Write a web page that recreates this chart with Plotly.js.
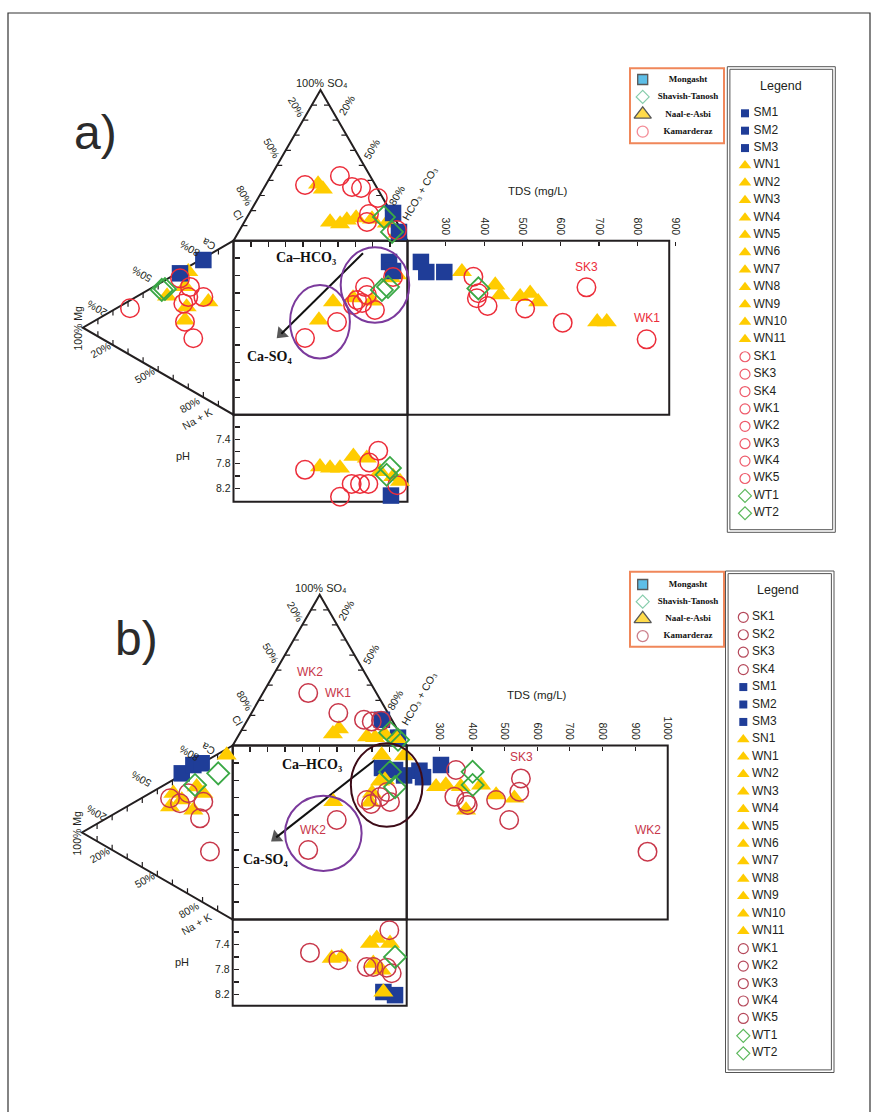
<!DOCTYPE html>
<html>
<head>
<meta charset="utf-8">
<script src="https://cdn.plot.ly/plotly-3.0.1.min.js"></script>
<style>html,body{margin:0;padding:0;background:#fff;}#chart{width:880px;height:1112px;}</style>
</head>
<body>
<div id="chart"></div>
<script>
// ===================== DATA =====================
// Groups: M = Mongasht (SM), N = Naal-e-Asbi (WN/SN), K = Kamarderaz (SK/WK), T = Shavish-Tanosh (WT)

// ---- (a) anion triangle: SO4 %, HCO3+CO3 % (Cl = remainder)
const aAnionGroup = ['N','N','N','N','N','N','N','N','N','M','M','K','K','K','K','K','K','K','K','T','T'];
const aAnionSO4   = [37.6,34.3,12.4,11.1,13.7,15.1,14.4,11.7,5.1, 18.4,5.8, 37.0,42.9,35.6,35.0,28.3,17.7,12.4,7.1, 15.7,5.8];
const aAnionHCO3  = [29.8,34.2,49.3,55.7,58.3,62.9,72.4,82.3,91.9, 82.5,92.2, 22.6,39.7,50.3,55.8,68.8,69.0,70.5,90.4, 78.6,88.2];
// ---- (a) cation triangle: Mg %, Ca % (Na+K = remainder)
const aCationGroup = ['N','N','N','N','N','N','M','M','K','K','K','K','K','K','K','K','T','T'];
const aCationMg    = [30.0,32.2,44.1,31.1,16.7,32.2, 20.0,35.5, 35.5,28.9,30.0,20.0,33.3,32.2,26.7,68.7, 47.6,45.5];
const aCationCa    = [67.2,57.5,46.1,46.4,56.5,38.3, 78.9,63.5, 60.6,59.0,52.6,57.6,47.3,37.3,30.6,26.8, 47.9,49.5];
// ---- (a) central square: anion axis %, cation axis %
const aSquareGroup = ['N','N','N','N','N','N','M','M','K','K','K','K','K','K','K','K','K','T','T'];
const aSquareX     = [57.2,49.1,68.7,79.6,90.5,94.0, 89.4,91.7, 91.7,75.6,76.7,71.0,73.9,81.3,68.7,59.5,41.1, 85.3,88.8];
const aSquareY     = [64.8,54.4,67.1,65.3,78.6,80.3, 87.8,82.6, 79.1,73.4,68.8,65.9,64.2,60.2,63.0,53.3,44.1, 71.7,73.4];
// ---- (a) TDS panel: TDS mg/L, cation axis %
const aTdsGroup = ['N','N','N','N','N','N','N','N','M','M','M','K','K','K','K','K','K','K','K','T'];
const aTds      = [342,429,442,494,520,541,695,720, 235,249,296, 372,381,385,409,507,605,667,824, 385];
const aTdsY     = [82.2,74.5,68.8,67.8,69.8,64.9,53.4,53.4, 87.8,82.0,82.0, 79.3,66.9,69.8,62.5,61.1,52.9,73.2,43.3, 72.6];
// ---- (a) pH panel: anion axis %, pH
const aPhGroup = ['N','N','N','N','N','N','N','N','M','K','K','K','K','K','K','K','K','T','T'];
const aPhX     = [49.7,55.5,61.2,68.9,76.6,84.2,91.8,95.7, 90.5, 41.1,61.2,67.9,72.7,77.5,78.0,83.2,94.1, 89.9,88.0];
const aPh      = [7.85,7.87,7.87,7.68,7.71,7.93,8.01,8.09, 8.32, 7.90,8.34,8.13,8.13,8.13,7.78,7.59,8.15, 7.87,7.98];

// ---- (b) anion triangle
const bAnionGroup = ['M','M','N','N','N','N','N','N','K','K','K','K','K','T','T'];
const bAnionSO4   = [17.1,5.2, 7.8,11.1,5.8,5.2,7.2,4.5, 34.8,21.6,17.1,16.0,16.5, 8.5,3.8];
const bAnionHCO3  = [77.2,92.4, 53.7,55.5,74.3,79.2,83.9,92.1, 26.0,49.9,66.9,71.9,77.0, 86.2,93.1];
// ---- (b) cation triangle
const bCationGroup = ['M','M','M','N','N','N','N','N','N','N','K','K','K','K','K','K','T','T'];
const bCationMg    = [33.8,26.1,20.6, 4.0,39.4,33.8,23.9,19.5,26.1,41.6, 41.6,35.0,29.5,19.5,21.7,15.1, 9.6,25.0];
const bCationCa    = [67.1,75.7,79.5, 92.5,52.8,51.8,64.3,62.7,49.8,44.0, 48.9,49.3,57.8,57.9,47.3,31.5, 79.2,64.8];
// ---- (b) central square
const bSquareGroup = ['M','M','M','N','N','N','N','N','N','N','K','K','K','K','K','K','K','T','T'];
const bSquareX     = [85.8,93.3,98.5, 57.8,85.6,98.4,84.7,87.5,80.1,78.9, 59.8,43.4,77.0,79.5,84.6,88.7,90.4, 90.4,93.3];
const bSquareY     = [87.1,85.9,82.8, 67.7,94.5,94.0,79.6,80.2,72.7,67.5, 57.2,39.9,68.7,66.4,70.4,73.3,67.5, 84.8,76.1];
// ---- (b) TDS panel
const bTdsGroup = ['M','M','M','N','N','N','N','N','N','N','K','K','K','K','K','K','K','K','K','T','T'];
const bTds      = [239,250,305, 290,320,366,382,428,474,530, 351,346,382,387,474,550,545,514,938, 402,402];
const bTdsY     = [85.5,81.8,88.8, 76.3,77.3,76.3,62.9,77.3,71.6,69.7, 85.9,70.6,67.7,65.8,68.7,81.1,73.4,57.2,39.0, 84.9,77.3];
// ---- (b) pH panel
const bPhGroup = ['M','M','N','N','N','N','N','N','N','N','K','K','K','K','K','K','K','T'];
const bPhX     = [86.6,93.3, 56.9,62.6,78.9,82.8,90.4,80.8,85.6,86.6, 44.4,60.7,77.0,80.8,88.5,90.0,91.4, 93.3];
const bPh      = [8.16,8.21, 7.62,7.60,7.38,7.30,7.38,7.70,7.81,8.16, 7.53,7.65,7.76,7.76,7.77,7.17,7.86, 7.60];

// ---- axis ticks / labels
const squareTicks = [10,20,30,40,50,60,70,80,90];
const aTdsTicks = [300,400,500,600,700,800,900];
const bTdsTicks = [300,400,500,600,700,800,900,1000];
const phTickVals = [7.4,7.8,8.2];
const phMinorVals = [7.2,7.6,8.0];

// ---- legends
const siteLabels = ['Mongasht','Shavish-Tanosh','Naal-e-Asbi','Kamarderaz'];
const aSampleLabels = ['SM1','SM2','SM3','WN1','WN2','WN3','WN4','WN5','WN6','WN7','WN8','WN9','WN10','WN11',
  'SK1','SK3','SK4','WK1','WK2','WK3','WK4','WK5','WT1','WT2'];
const bSampleLabels = ['SK1','SK2','SK3','SK4','SM1','SM2','SM3','SN1','WN1','WN2','WN3','WN4','WN5','WN6','WN7',
  'WN8','WN9','WN10','WN11','WK1','WK2','WK3','WK4','WK5','WT1','WT2'];

// ---- sample name labels on the plot
const aPointLabelText = ['SK3','WK1'];
const aPointLabelTds  = [667.6, 824.2];
const aPointLabelY    = [85.1, 55.4];
const bPointLabelText = ['SK3','WK2'];
const bPointLabelTds  = [550.3, 938.3];
const bPointLabelY    = [93.2, 51.4];
const bDiagLabelText  = ['WK2','WK1','WK2'];
const bDiagLabelX     = [44.4, 60.7, 46.3];
const bDiagLabelY     = [142.4, 130.0, 51.4];

// ===================== STYLE / BUILD =====================
const W = 880, H = 1112;
const SQ3 = Math.sqrt(3) / 2;
const SANS = 'Arial, "Liberation Sans", "DejaVu Sans", sans-serif';
const SERIF = '"Times New Roman", "Liberation Serif", "DejaVu Serif", serif';
const INK = '#231f20';
const BLUE = '#1f3d98', YELLOW = '#ffcc00', GREEN = '#3aa845';

const traces = [];
const shapes = [];
const annotations = [];
const layout = {
  width: W, height: H, margin: {l:0, r:0, t:0, b:0},
  paper_bgcolor: '#ffffff', plot_bgcolor: 'rgba(0,0,0,0)',
  showlegend: false, hovermode: false,
  font: {family: SANS, color: INK}
};
const axName = id => id[0] + 'axis' + id.slice(1);

function markerFor(g, red) {
  if (g === 'M') return {symbol:'square', size:16.5, color:BLUE, line:{width:0}};
  if (g === 'N') return {symbol:'triangle-up', size:17.5, color:YELLOW, line:{width:0}};
  if (g === 'K') return {symbol:'circle-open', size:18.5, color:red, line:{width:1.5, color:red}};
  return {symbol:'diamond-open', size:17, color:GREEN, line:{width:1.8, color:GREEN}};
}
const anionToXY = (so4, hco3) => [hco3 + so4 / 2, 100 + so4 * SQ3];
const cationToXY = (mg, ca) => [-mg * SQ3, ca + mg / 2];

function addPoints(groups, xs, ys, order, xa, ya, red, tf) {
  order.forEach(g => {
    const X = [], Y = [];
    groups.forEach((gg, i) => {
      if (gg !== g) return;
      const p = tf ? tf(xs[i], ys[i]) : [xs[i], ys[i]];
      X.push(p[0]); Y.push(p[1]);
    });
    if (!X.length) return;
    traces.push({type:'scatter', mode:'markers', x:X, y:Y, xaxis:xa, yaxis:ya,
      marker:markerFor(g, red), cliponaxis:false, showlegend:false, hoverinfo:'skip'});
  });
}

function ann(text, x, y, xref, yref, o) {
  return Object.assign({text, x, y, xref, yref, showarrow:false, xanchor:'center', yanchor:'middle',
    font:{family:SANS, size:10.5, color:INK}}, o || {});
}

// labels around triangles (diagram units: square = 0..100)
const TRI_LABELS = [
  ['100% SO₄', 50.7, 190.5, 0, 11],
  ['20%', 36.3, 177.0, 60], ['50%', 21.9, 153.1, 60], ['80%', 6.6, 125.9, 60], ['Cl', 2.8, 114.8, 60],
  ['20%', 65.1, 178.0, -60], ['50%', 79.4, 152.7, -60], ['80%', 93.4, 125.9, -60],
  ['HCO₃ + CO₃', 107.2, 127.2, -60],
  ['Ca', -14.5, 98.1, -150], ['80%', -25.0, 95.2, -150], ['50%', -52.8, 80.7, -150], ['20%', -78.3, 61.1, -150],
  ['100% Mg', -89.2, 49.7, -90],
  ['20%', -76.7, 37.2, -30], ['50%', -50.9, 22.8, -30], ['80%', -25.4, 5.6, -30], ['Na + K', -21.1, -2.5, -30]
];

function buildDiagram(D) {
  const s = D.s, sqB = D.sqT + 100 * s, sqR = D.sqL + 100 * s;
  const base = {showgrid:false, zeroline:false, showline:false, fixedrange:true};
  const xL = 55, xR = 432, yT = D.sqT - 178, yB = D.phB + 12;
  const tickStyle = {ticks:'inside', ticklen:5, tickwidth:1.3, tickcolor:INK};
  layout[axName(D.ids.x)] = Object.assign({}, base, tickStyle, {
    domain:[xL / W, xR / W], range:[(xL - D.sqL) / s, (xR - D.sqL) / s],
    anchor:'free', position:1 - D.sqT / H, side:'top',
    tickmode:'array', tickvals:squareTicks, showticklabels:false
  });
  layout[axName(D.ids.y)] = Object.assign({}, base, tickStyle, {
    domain:[1 - yB / H, 1 - yT / H], range:[(sqB - yB) / s, (sqB - yT) / s],
    anchor:'free', position:D.sqL / W, side:'left',
    tickmode:'array', tickvals:squareTicks, showticklabels:false
  });
  const tdsEnd = sqR + (D.tdsMax - 200) * D.tdsScale;
  layout[axName(D.ids.xt)] = Object.assign({}, base, {
    domain:[(sqR - 4) / W, (tdsEnd + 6) / W], range:[200 - 4 / D.tdsScale, D.tdsMax + 6 / D.tdsScale],
    anchor:'free', position:1 - D.sqT / H, side:'top',
    tickmode:'array', tickvals:D.tdsTicks, ticks:'inside', ticklen:4, tickwidth:1.2, tickcolor:INK,
    tickangle:90, tickfont:{family:SANS, size:10.5, color:INK}, ticklabelstandoff:4
  });
  const phScale = (D.phB - sqB) / (D.phMax - 7);
  layout[axName(D.ids.yp)] = Object.assign({}, base, {
    domain:[1 - (D.phB + 4) / H, 1 - (sqB - 4) / H], range:[D.phMax + 4 / phScale, 7 - 4 / phScale],
    anchor:'free', position:D.sqL / W, side:'left',
    tickmode:'array', tickvals:phTickVals, tickformat:'.1f',
    ticks:'inside', ticklen:5, tickwidth:1.2, tickcolor:INK,
    minor:{tickmode:'array', tickvals:phMinorVals, ticks:'inside', ticklen:5, tickwidth:1.2, tickcolor:INK, showgrid:false},
    tickfont:{family:SANS, size:10.5, color:INK}, ticklabelstandoff:3
  });

  const xr = D.ids.x, yr = D.ids.y;
  const frame = {color:INK, width:2};
  shapes.push({type:'path', xref:xr, yref:yr, layer:'below', line:frame,
    path:'M0,100 L50,' + (100 + 100 * SQ3) + ' L100,100 Z'});
  shapes.push({type:'path', xref:xr, yref:yr, layer:'below', line:frame,
    path:'M0,100 L' + (-100 * SQ3) + ',50 L0,0 Z'});
  shapes.push({type:'rect', xref:xr, yref:yr, layer:'below', line:frame, x0:0, x1:100, y0:0, y1:100});
  shapes.push({type:'rect', xref:D.ids.xt, yref:yr, layer:'below', line:frame, x0:200, x1:D.tdsBox, y0:0, y1:100});
  shapes.push({type:'rect', xref:xr, yref:D.ids.yp, layer:'below', line:frame, x0:0, x1:100, y0:7, y1:D.phMax});
  // small tick marks on the triangle sides
  const tl = {color:INK, width:1.2};
  for (let f = 1; f <= 9; f++) {
    const t = f / 10;
    let x = 50 * t, y = 100 + 100 * SQ3 * t;
    shapes.push({type:'line', xref:xr, yref:yr, layer:'below', line:tl, x0:x, y0:y, x1:x + 3, y1:y});
    x = 100 - 50 * t;
    shapes.push({type:'line', xref:xr, yref:yr, layer:'below', line:tl, x0:x, y0:y, x1:x - 3, y1:y});
    x = -100 * SQ3 * t; y = 100 - 50 * t;
    shapes.push({type:'line', xref:xr, yref:yr, layer:'below', line:tl, x0:x, y0:y, x1:x, y1:y - 3});
    y = 50 * t;
    shapes.push({type:'line', xref:xr, yref:yr, layer:'below', line:tl, x0:x, y0:y, x1:x, y1:y + 3});
  }
  // ellipses
  D.ellipses.forEach(e => shapes.push({type:'circle', xref:xr, yref:yr, layer:'above',
    x0:e.cx - e.rx, x1:e.cx + e.rx, y0:e.cy - e.ry, y1:e.cy + e.ry, line:{color:e.color, width:2}}));
  // arrow (Ca-HCO3 -> Ca-SO4), drawn as a line with a filled triangle at its tip
  traces.push({type:'scatter', mode:'lines+markers', xaxis:xr, yaxis:yr,
    x:[D.arrow[0], D.arrow[2]], y:[D.arrow[1], D.arrow[3]],
    line:{color:'#111', width:2},
    marker:{symbol:['circle','triangle-up'], size:[0,13], color:'#111', angleref:'previous', line:{width:0}},
    cliponaxis:false, showlegend:false, hoverinfo:'skip'});

  // points
  addPoints(D.anion[0], D.anion[1], D.anion[2], D.order, xr, yr, D.red, anionToXY);
  addPoints(D.cation[0], D.cation[1], D.cation[2], D.order, xr, yr, D.red, cationToXY);
  addPoints(D.square[0], D.square[1], D.square[2], D.order, xr, yr, D.red);
  addPoints(D.tds[0], D.tds[1], D.tds[2], D.order, D.ids.xt, yr, D.red);
  addPoints(D.ph[0], D.ph[1], D.ph[2], D.order, xr, D.ids.yp, D.red);

  // text
  TRI_LABELS.forEach(l => annotations.push(ann(l[0], l[1], l[2], xr, yr,
    {textangle:l[3], font:{family:SANS, size:l[4] || 10.5, color:INK}})));
  const bold = {family:SERIF, size:14, color:'#111', weight:'bold'};
  annotations.push(ann('Ca–HCO₃', D.caHCO3[0], D.caHCO3[1], xr, yr, {font:bold}));
  annotations.push(ann('Ca-SO₄', D.caSO4[0], D.caSO4[1], xr, yr, {font:bold}));
  annotations.push(ann('pH', -29.2, 7.68, xr, D.ids.yp, {font:{family:SANS, size:11, color:INK}}));
  annotations.push(ann('TDS (mg/L)', D.tdsTitle[0], D.tdsTitle[1], D.ids.xt, yr, {font:{family:SANS, size:11.5, color:INK}}));
  D.tdsLabels[0].forEach((t, i) => annotations.push(ann(t, D.tdsLabels[1][i], D.tdsLabels[2][i], D.ids.xt, yr,
    {font:{family:SANS, size:12, color:D.red}})));
  if (D.diagLabels) D.diagLabels[0].forEach((t, i) => annotations.push(ann(t, D.diagLabels[1][i], D.diagLabels[2][i], xr, yr,
    {font:{family:SANS, size:12, color:D.red}})));
  annotations.push(ann(D.key + ')', D.letter[0], D.letter[1], 'x5', 'y5', {font:{family:SANS, size:48, color:'#2b2b2b'}}));
}

const DIAGRAMS = [
  {key:'a', sqL:233.5, sqT:240.7, s:1.74, tdsMax:900, tdsScale:0.3832, tdsBox:883, tdsTicks:aTdsTicks,
   phB:501.7, phMax:8.42, ids:{x:'x', y:'y', xt:'x2', yp:'y2'}, red:'#ec2d3a', order:['N','M','K','T'],
   anion:[aAnionGroup, aAnionSO4, aAnionHCO3], cation:[aCationGroup, aCationMg, aCationCa],
   square:[aSquareGroup, aSquareX, aSquareY], tds:[aTdsGroup, aTds, aTdsY], ph:[aPhGroup, aPhX, aPh],
   ellipses:[{cx:49.7, cy:53.4, rx:17.2, ry:21.1, color:'#7b3a9c'}, {cx:81.3, cy:74.5, rx:19.7, ry:21.7, color:'#7b3a9c'}],
   arrow:[74.4, 92.8, 27.5, 46.5], caHCO3:[41.4, 90.1], caSO4:[20.4, 33.7], tdsTitle:[540.6, 128.6],
   tdsLabels:[aPointLabelText, aPointLabelTds, aPointLabelY], letter:[95.7, 132.3]},
  {key:'b', sqL:232.7, sqT:745.5, s:1.74, tdsMax:1000, tdsScale:0.3263, tdsBox:1000, tdsTicks:bTdsTicks,
   phB:1005.7, phMax:8.379, ids:{x:'x3', y:'y3', xt:'x4', yp:'y4'}, red:'#c8374a', order:['M','N','K','T'],
   anion:[bAnionGroup, bAnionSO4, bAnionHCO3], cation:[bCationGroup, bCationMg, bCationCa],
   square:[bSquareGroup, bSquareX, bSquareY], tds:[bTdsGroup, bTds, bTdsY], ph:[bPhGroup, bPhX, bPh],
   ellipses:[{cx:52.1, cy:49.5, rx:22.0, ry:21.6, color:'#7b3a9c'}, {cx:88.5, cy:77.3, rx:20.6, ry:24.0, color:'#3d0c18'}],
   arrow:[81.8, 91.7, 25.0, 47.2], caHCO3:[45.4, 88.8], caSO4:[19.1, 34.2], tdsTitle:[598.4, 129.0],
   tdsLabels:[bPointLabelText, bPointLabelTds, bPointLabelY],
   diagLabels:[bDiagLabelText, bDiagLabelX, bDiagLabelY], letter:[136, 638]}
];

// page-pixel axis for frames and legends
layout.xaxis5 = {domain:[0,1], range:[0,W], visible:false, fixedrange:true, anchor:'y5'};
layout.yaxis5 = {domain:[0,1], range:[H,0], visible:false, fixedrange:true, anchor:'x5'};

DIAGRAMS.forEach(buildDiagram);

function groupOf(l) {
  if (l.startsWith('SM')) return 'M';
  if (l.startsWith('WN') || l.startsWith('SN')) return 'N';
  if (l.startsWith('WT')) return 'T';
  return 'K';
}
function legendMarker(g, red) {
  if (g === 'M') return {symbol:'square', size:8, color:BLUE};
  if (g === 'N') return {symbol:'triangle-up', size:11, color:YELLOW};
  if (g === 'K') return {symbol:'circle-open', size:10, color:red, line:{width:1.2, color:red}};
  return {symbol:'diamond-open', size:10, color:'#5cb85c', line:{width:1.2, color:'#5cb85c'}};
}
function rect(x0, y0, x1, y1, color, width) {
  shapes.push({type:'rect', xref:'x5', yref:'y5', x0, y0, x1, y1, line:{color, width}, layer:'above'});
}
function buildLegends(L) {
  // site legend (orange box)
  rect(L.site.box[0], L.site.box[1], L.site.box[2], L.site.box[3], '#f0875a', 2);
  const sy = siteLabels.map((_, i) => L.site.y0 + i * L.site.dy);
  traces.push({type:'scatter', mode:'markers', xaxis:'x5', yaxis:'y5', x:sy.map(() => L.site.mx), y:sy,
    cliponaxis:false, hoverinfo:'skip', showlegend:false,
    marker:{symbol:['square','diamond-open','triangle-up','circle-open'], size:[10,10,15,11],
      color:['#19a3dd','#52b788',YELLOW,L.red], line:{width:[1.3,1.2,1.3,1.3], color:['#111','#52b788','#111',L.red]}}});
  traces.push({type:'scatter', mode:'text', xaxis:'x5', yaxis:'y5', x:sy.map(() => L.site.tx), y:sy,
    text:siteLabels, textposition:'middle center', cliponaxis:false, hoverinfo:'skip', showlegend:false,
    textfont:{family:SERIF, size:9, color:'#111', weight:'bold'}});
  // sample legend (double frame)
  const o = L.box;
  rect(o[0], o[1], o[2], o[3], '#555', 1);
  rect(o[0] + 2.6, o[1] + 2.6, o[2] - 2.6, o[3] - 2.6, '#555', 1);
  annotations.push(ann('Legend', L.title[0], L.title[1], 'x5', 'y5', {font:{family:SANS, size:12.5, color:INK}}));
  const ys = L.labels.map((_, i) => L.y0 + i * L.dy);
  ['M','N','K','T'].forEach(g => {
    const Y = ys.filter((_, i) => groupOf(L.labels[i]) === g);
    traces.push({type:'scatter', mode:'markers', xaxis:'x5', yaxis:'y5', x:Y.map(() => L.mx), y:Y,
      marker:legendMarker(g, L.red), cliponaxis:false, hoverinfo:'skip', showlegend:false});
  });
  traces.push({type:'scatter', mode:'text', xaxis:'x5', yaxis:'y5', x:ys.map(() => L.tx), y:ys, text:L.labels,
    textposition:'middle right', textfont:{family:SANS, size:12, color:INK},
    cliponaxis:false, hoverinfo:'skip', showlegend:false});
}
buildLegends({labels:aSampleLabels, y0:113.3, dy:17.39, mx:745, tx:753.5, red:'#ee5a6a',
  box:[727.3, 66.7, 835.3, 532.3], title:[780.7, 86],
  site:{box:[630, 68.3, 724, 143.3], y0:79.5, dy:17.4, mx:642.7, tx:688}});
buildLegends({labels:bSampleLabels, y0:617.3, dy:17.44, mx:743.3, tx:752, red:'#b5485a',
  box:[725.5, 571, 834, 1072.5], title:[778.3, 590],
  site:{box:[630, 571.7, 724, 646.7], y0:584.5, dy:17.2, mx:642.7, tx:688}});

// page frame
rect(8, 13, 870, 1125, '#333', 1.2);

layout.shapes = shapes;
layout.annotations = annotations;
Plotly.newPlot('chart', traces, layout, {staticPlot:true, displayModeBar:false});
</script>
</body>
</html>
